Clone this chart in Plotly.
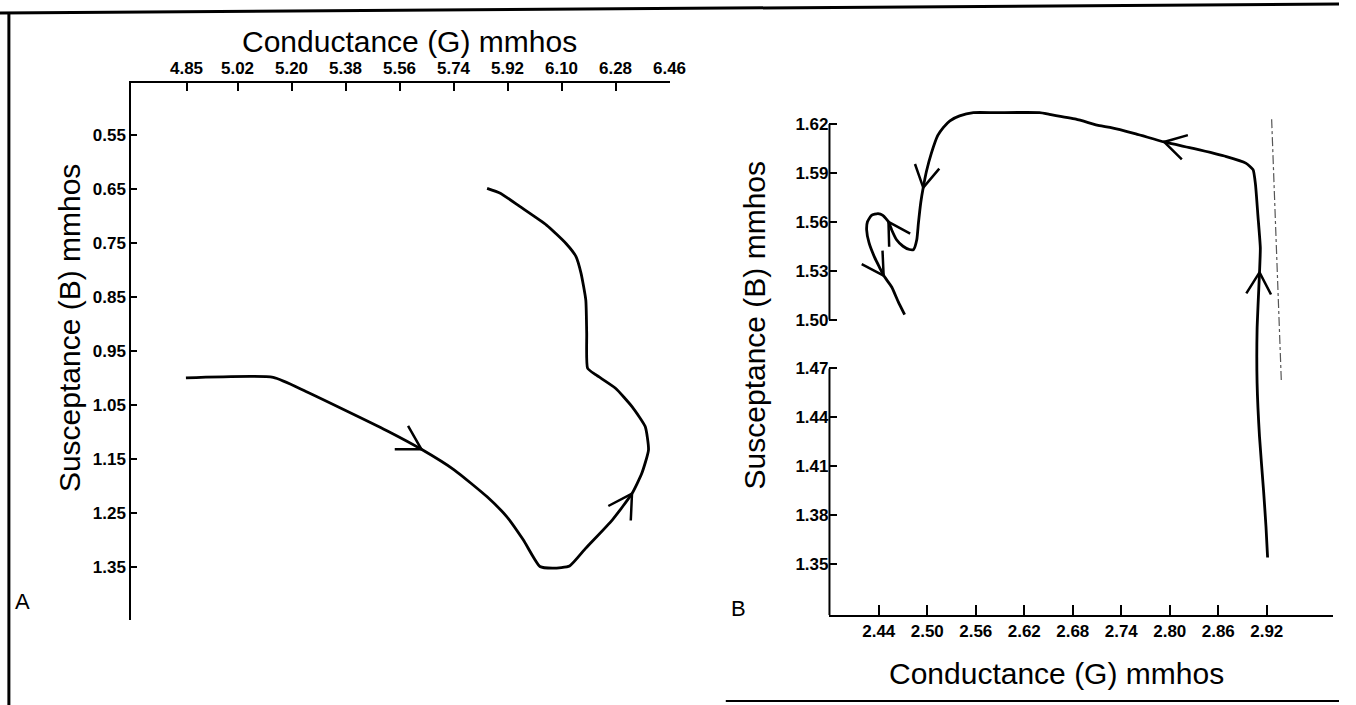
import math
import plotly.graph_objects as go

# ---------------- data ----------------
# Panel A: admittance locus (Conductance G vs Susceptance B), mmhos
a_g = [4.848, 5.139, 5.248, 5.413, 5.523, 5.633, 5.742, 5.852, 5.918, 5.973,
       6.028, 6.072, 6.127, 6.181, 6.269, 6.335, 6.368, 6.390, 6.379, 6.335,
       6.280, 6.214, 6.187, 6.184, 6.181, 6.165, 6.148, 6.115, 6.050, 5.962,
       5.896, 5.852]
a_b = [1.000, 0.999, 1.025, 1.069, 1.099, 1.132, 1.170, 1.220, 1.257, 1.300,
       1.349, 1.352, 1.348, 1.315, 1.263, 1.214, 1.176, 1.133, 1.090, 1.053,
       1.019, 0.994, 0.982, 0.917, 0.856, 0.806, 0.775, 0.751, 0.717, 0.683,
       0.658, 0.649]
a_arrow_idx = [5, 15]
a_g_ticks = [4.85, 5.02, 5.20, 5.38, 5.56, 5.74, 5.92, 6.10, 6.28, 6.46]
a_b_ticks = [0.55, 0.65, 0.75, 0.85, 0.95, 1.05, 1.15, 1.25, 1.35]

# Panel B
b_g = [2.921, 2.919, 2.916, 2.911, 2.908, 2.908, 2.911, 2.912, 2.909, 2.906,
       2.903, 2.894, 2.870, 2.829, 2.793, 2.758, 2.726, 2.713, 2.684, 2.651,
       2.639, 2.585, 2.557, 2.540, 2.528, 2.520, 2.513, 2.505, 2.499, 2.495,
       2.492, 2.489, 2.487, 2.483, 2.478, 2.470, 2.462, 2.456, 2.452, 2.445,
       2.439, 2.431, 2.426, 2.425, 2.428, 2.435, 2.442, 2.446, 2.456, 2.464,
       2.472]
b_b = [1.354, 1.373, 1.395, 1.428, 1.461, 1.494, 1.529, 1.544, 1.564, 1.583,
       1.592, 1.596, 1.600, 1.605, 1.609, 1.614, 1.618, 1.619, 1.623, 1.626,
       1.627, 1.627, 1.627, 1.625, 1.622, 1.618, 1.613, 1.602, 1.591, 1.581,
       1.572, 1.559, 1.549, 1.543, 1.543, 1.545, 1.549, 1.555, 1.560, 1.564,
       1.565, 1.564, 1.560, 1.555, 1.547, 1.538, 1.531, 1.527, 1.520, 1.511,
       1.503]
b_arrow_idx = [6, 14, 29, 38, 47]
b_ref_g = [2.926, 2.938]
b_ref_b = [1.623, 1.462]
b_g_ticks = [2.44, 2.50, 2.56, 2.62, 2.68, 2.74, 2.80, 2.86, 2.92]
b_b_ticks = [1.35, 1.38, 1.41, 1.44, 1.47, 1.50, 1.53, 1.56, 1.59, 1.62]

# ---------------- layout geometry ----------------
W, H = 1356, 705
A_XPX, A_YPX = (133, 678), (83, 620)
B_XPX, B_YPX = (840, 1350), (99.6, 615)
A_XR, A_YR = [4.666, 6.46], [1.448, 0.454]
B_XR, B_YR = [2.379, 3.002], [1.3187, 1.635]


def dom_x(p):
    return [p[0] / W, p[1] / W]


def dom_y(p):
    return [1 - p[1] / H, 1 - p[0] / H]


def wings(xs, ys, idxs, sx, sy, L=27, ang=30):
    ox, oy = [], []
    for i in idxs:
        j0, j1 = max(i - 1, 0), min(i + 1, len(xs) - 1)
        dx = (xs[j1] - xs[j0]) * sx
        dy = (ys[j1] - ys[j0]) * sy
        n = math.hypot(dx, dy)
        bx, by = -dx / n, -dy / n
        pts = []
        for s in (1, -1):
            a = math.radians(ang * s)
            wx = bx * math.cos(a) - by * math.sin(a)
            wy = bx * math.sin(a) + by * math.cos(a)
            pts.append((xs[i] + wx * L / sx, ys[i] + wy * L / sy))
        ox += [pts[0][0], xs[i], pts[1][0], None]
        oy += [pts[0][1], ys[i], pts[1][1], None]
    return ox, oy


# px per unit (screen y downward positive)
a_sx = (A_XPX[1] - A_XPX[0]) / (A_XR[1] - A_XR[0])
a_sy = (A_YPX[1] - A_YPX[0]) / (A_YR[0] - A_YR[1])
b_sx = (B_XPX[1] - B_XPX[0]) / (B_XR[1] - B_XR[0])
b_sy = -(B_YPX[1] - B_YPX[0]) / (B_YR[1] - B_YR[0])

LINE = dict(color="black", width=2.8, shape="spline", smoothing=0.5)
fig = go.Figure()
fig.add_trace(go.Scatter(x=a_g, y=a_b, mode="lines", line=LINE,
                         xaxis="x", yaxis="y", showlegend=False))
wx, wy = wings(a_g, a_b, a_arrow_idx, a_sx, a_sy)
fig.add_trace(go.Scatter(x=wx, y=wy, mode="lines", line=dict(color="black", width=2.5),
                         xaxis="x", yaxis="y", showlegend=False))
fig.add_trace(go.Scatter(x=b_g, y=b_b, mode="lines", line=LINE,
                         xaxis="x2", yaxis="y2", showlegend=False))
wx, wy = wings(b_g, b_b, b_arrow_idx, b_sx, b_sy, L=25)
fig.add_trace(go.Scatter(x=wx, y=wy, mode="lines", line=dict(color="black", width=2.5),
                         xaxis="x2", yaxis="y2", showlegend=False))
fig.add_trace(go.Scatter(x=b_ref_g, y=b_ref_b, mode="lines",
                         line=dict(color="#555", width=1.2, dash="dashdot"),
                         xaxis="x2", yaxis="y2", showlegend=False))

TICKFONT = dict(family="Liberation Sans, Arial", size=17, color="black", weight="bold")
TITLEFONT = dict(family="Liberation Sans, Arial", size=30, color="black")

axis_common = dict(showgrid=False, zeroline=False, linecolor="black", linewidth=2,
                   ticks="inside", tickcolor="black", tickwidth=2, tickfont=TICKFONT,
                   fixedrange=True)

fig.update_layout(
    width=W, height=H, margin=dict(l=0, r=0, t=0, b=0),
    paper_bgcolor="white", plot_bgcolor="white",
    xaxis=dict(domain=dom_x(A_XPX), range=A_XR, side="top", anchor="y",
               tickvals=a_g_ticks, ticktext=[f"{v:.2f}" for v in a_g_ticks],
               showline=True, ticklen=8, **axis_common),
    yaxis=dict(domain=dom_y(A_YPX), range=A_YR, anchor="x",
               tickvals=a_b_ticks, ticktext=[f"{v:.2f}" for v in a_b_ticks],
               showline=True, ticklen=6, **axis_common),
    xaxis2=dict(domain=dom_x(B_XPX), range=B_XR, anchor="y2",
                tickvals=b_g_ticks, ticktext=[f"{v:.2f}" for v in b_g_ticks],
                showline=True, ticklen=10, **axis_common),
    yaxis2=dict(domain=dom_y(B_YPX), range=B_YR, anchor="x2",
                tickvals=b_b_ticks, ticktext=[f"{v:.2f}" for v in b_b_ticks],
                showline=False, ticklen=8, **axis_common),
)

# broken y axis of panel B
for y0, y1 in [(1.62, 1.50), (1.47, B_YR[0])]:
    fig.add_shape(type="line", xref="x2 domain", yref="y2", x0=0, x1=0, y0=y0, y1=y1,
                  line=dict(color="black", width=2))

# scan frame borders
for (x0, y0, x1, y1, w) in [(0, 13, W, 4, 3), (9, 12, 9, H, 3), (735, 701, W, 701, 2)]:
    fig.add_shape(type="line", xref="paper", yref="paper",
                  x0=x0 / W, x1=x1 / W, y0=1 - y0 / H, y1=1 - y1 / H,
                  line=dict(color="black", width=w))

# titles and panel letters
ann = [
    ("Conductance (G) mmhos", 415, 42, 0),
    ("Susceptance (B) mmhos", 70, 328, -90),
    ("Conductance (G) mmhos", 1070, 673, 0),
    ("Susceptance (B) mmhos", 764, 325, -90),
]
for text, x, y, rot in ann:
    fig.add_annotation(text=text, x=x / W, y=1 - y / H, xref="paper", yref="paper",
                       showarrow=False, textangle=rot, font=TITLEFONT,
                       xanchor="center", yanchor="middle")
for text, x, y in [("A", 23, 601), ("B", 748, 608)]:
    fig.add_annotation(text=text, x=x / W, y=1 - y / H, xref="paper", yref="paper",
                       showarrow=False, font=dict(family="Liberation Sans, Arial", size=22, color="black"),
                       xanchor="center", yanchor="middle")

fig.write_html("out.html", config={"displayModeBar": False},
               post_script="document.body.style.margin='0';document.body.style.overflow='hidden';")
